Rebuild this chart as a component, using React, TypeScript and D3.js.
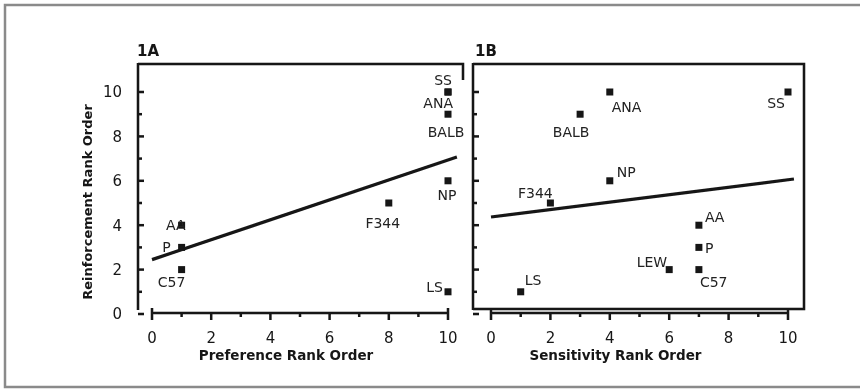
import React from 'react';
import * as d3 from 'd3';

// strains
const strainsA = ['SS', 'ANA', 'BALB', 'NP', 'LS', 'F344', 'AA', 'P', 'C57'];
const preferenceRank = [10, 10, 10, 10, 10, 8, 1, 1, 1];
const reinforcementA = [10, 10, 9, 6, 1, 5, 4, 3, 2];

const strainsB = ['ANA', 'SS', 'BALB', 'NP', 'F344', 'AA', 'P', 'C57', 'LEW', 'LS'];
const sensitivityRank = [4, 10, 3, 4, 2, 7, 7, 7, 6, 1];
const reinforcementB = [10, 10, 9, 6, 5, 4, 3, 2, 2, 1];

// fitted lines (end points)
const fitA = [[0, 2.45], [10.3, 7.07]];
const fitB = [[0, 4.37], [10.2, 6.08]];

const rankTicks = d3.range(0, 11);

// where each label sits relative to its marker: [anchor, dx, dy]
const placeA = {
  SS: ['end', 4, -12], ANA: ['end', 5, 11], BALB: ['middle', -2, 18],
  NP: ['middle', -1, 14], LS: ['end', -5, -5], F344: ['middle', -6, 20],
  AA: ['end', 4, 0], P: ['end', -11, 0], C57: ['middle', -10, 12]
};
const placeB = {
  ANA: ['start', 2, 15], SS: ['end', -3, 11], BALB: ['middle', -9, 18],
  NP: ['start', 7, -9], F344: ['middle', -15, -10], AA: ['start', 6, -8],
  P: ['start', 6, 1], C57: ['start', 1, 12], LEW: ['end', -2, -8],
  LS: ['start', 4, -12]
};

const W = 860;
const H = 389;
const ink = '#151515';
const font = '"DejaVu Sans", Arial, sans-serif';

const y = d3.scaleLinear().domain([0, 10]).range([314, 92]);
const xA = d3.scaleLinear().domain([0, 10]).range([152, 448]);
const xB = d3.scaleLinear().domain([0, 10]).range([491, 788]);

const XAxis = ({ x, title, titleShift }) => {
  const [x0, x1] = x.range();
  return (
    <g>
      <line x1={x0} x2={x1} y1={313} y2={313} stroke={ink} strokeWidth={2.5} />
      {rankTicks.map(t => (
        <line key={t} x1={x(t)} x2={x(t)}
          y1={t === 0 || t === 10 ? 308 : 313} y2={t % 2 === 0 ? 320 : 317}
          stroke={ink} strokeWidth={2.5} />
      ))}
      {rankTicks.filter(t => t % 2 === 0).map(t => (
        <text key={t} x={x(t)} y={343} textAnchor="middle" fontSize={15}
          fontFamily={font} fill={ink}>{t}</text>
      ))}
      <text x={(x0 + x1) / 2 + titleShift} y={360} textAnchor="middle" fontSize={13.5}
        fontWeight="bold" fontFamily={font} fill={ink}>{title}</text>
    </g>
  );
};

const YAxis = ({ at, labels }) => (
  <g>
    <line x1={at} x2={at} y1={63} y2={310} stroke={ink} strokeWidth={2.5} />
    {rankTicks.map(t => (
      <line key={t} x1={at} x2={at + (t % 2 === 0 ? 6 : 4)} y1={y(t)} y2={y(t)}
        stroke={ink} strokeWidth={2.5} />
    ))}
    {labels && rankTicks.filter(t => t % 2 === 0).map(t => (
      <text key={t} x={at - 16} y={y(t)} dy="0.36em" textAnchor="end" fontSize={15}
        fontFamily={font} fill={ink}>{t}</text>
    ))}
  </g>
);

const Points = ({ x, strains, xs, ys, place }) => (
  <g>
    {strains.map((s, i) => (
      <rect key={'m' + s} x={x(xs[i]) - 3.5} y={y(ys[i]) - 3.5} width={7} height={7} fill={ink} />
    ))}
    {strains.map((s, i) => {
      const [anchor, dx, dy] = place[s];
      return (
        <text key={'t' + s} x={x(xs[i]) + dx} y={y(ys[i]) + dy} dy="0.36em"
          textAnchor={anchor} fontSize={14} fontFamily={font} fill="#222">{s}</text>
      );
    })}
  </g>
);

const FitLine = ({ x, pts }) => {
  const line = d3.line().x(d => x(d[0])).y(d => y(d[1]));
  return <path d={line(pts)} fill="none" stroke={ink} strokeWidth={3.2} />;
};

export default function App() {
  return (
    <svg width={W} height={H} style={{ position: 'absolute', left: 0, top: 0, background: '#fff' }}>
      <defs>
        <filter id="scan">
          <feGaussianBlur stdDeviation="0.45" />
        </filter>
      </defs>
      <rect x={5} y={5} width={W} height={382} fill="none" stroke="#8a8a8a" strokeWidth={2.5} />
      <g filter="url(#scan)">
        {/* panel A */}
        <text x={137} y={56} fontSize={15} fontWeight="bold" fontFamily={font} fill={ink}>1A</text>
        <polyline points="138,64 463,64 463,80" fill="none" stroke={ink} strokeWidth={2.5} />
        <YAxis at={138} labels />
        <text transform="translate(92,202) rotate(-90)" textAnchor="middle" fontSize={13}
          fontWeight="bold" fontFamily={font} fill={ink}>Reinforcement Rank Order</text>
        <XAxis x={xA} title="Preference Rank Order" titleShift={-14} />
        <FitLine x={xA} pts={fitA} />
        <Points x={xA} strains={strainsA} xs={preferenceRank} ys={reinforcementA} place={placeA} />

        {/* panel B */}
        <text x={475} y={56} fontSize={15} fontWeight="bold" fontFamily={font} fill={ink}>1B</text>
        <polyline points="473,64 804,64 804,309 473,309" fill="none" stroke={ink} strokeWidth={2.5} />
        <YAxis at={473} />
        <XAxis x={xB} title="Sensitivity Rank Order" titleShift={-24} />
        <FitLine x={xB} pts={fitB} />
        <Points x={xB} strains={strainsB} xs={sensitivityRank} ys={reinforcementB} place={placeB} />
      </g>
    </svg>
  );
}
